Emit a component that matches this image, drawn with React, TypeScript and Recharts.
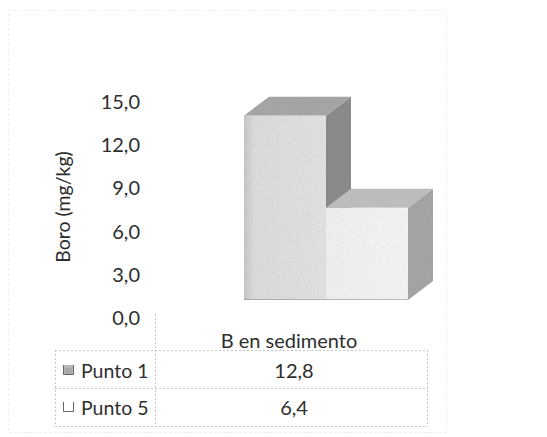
import React from "react";
import { Bar, BarChart, XAxis, YAxis } from "recharts";

const categories = ["B en sedimento"];
const seriesNames = ["Punto 1", "Punto 5"];
const punto1 = [12.8];
const punto5 = [6.4];
const yTicks = [0, 3, 6, 9, 12, 15];

const data = categories.map((c, i) => ({ cat: c, p1: punto1[i], p5: punto5[i] }));

const FONT = "Lato, 'Open Sans', sans-serif";
const TEXT = "#2e2e2e";
const DEPTH_X = 25;
const DEPTH_Y = 19;

const fmt = (v: number) => v.toFixed(1).replace(".", ",");

const faces = {
  p1: { front: "url(#front1)", side: "#909090", top: "#acacac" },
  p5: { front: "url(#front5)", side: "#aaaaaa", top: "#c4c4c4" },
};

function Box3D(props: any) {
  const { x, y, width, height, colors } = props;
  if (!height || height <= 0) return null;
  const x2 = x + width;
  const yb = y + height;
  return (
    <g filter="url(#grain)">
      <polygon
        points={`${x2},${y} ${x2 + DEPTH_X},${y - DEPTH_Y} ${x2 + DEPTH_X},${yb - DEPTH_Y} ${x2},${yb}`}
        fill={colors.side}
      />
      <polygon
        points={`${x},${y} ${x + DEPTH_X},${y - DEPTH_Y} ${x2 + DEPTH_X},${y - DEPTH_Y} ${x2},${y}`}
        fill={colors.top}
      />
      <rect x={x} y={y} width={width} height={height} fill={colors.front} />
      <line x1={x} y1={yb} x2={x2} y2={yb} stroke="#888" strokeWidth={1} />
    </g>
  );
}

function YTick(props: any) {
  const { x, y, payload } = props;
  return (
    <text
      x={x}
      y={y + 17}
      textAnchor="end"
      dominantBaseline="central"
      fontFamily={FONT}
      fontSize={20}
      fill={TEXT}
    >
      {fmt(payload.value)}
    </text>
  );
}

function DataTable() {
  const line = { stroke: "#c8c8c8", strokeDasharray: "2 2", strokeWidth: 1 };
  const rows = [
    { name: seriesNames[0], value: punto1[0], key: "#b8b8b8", y: 370 },
    { name: seriesNames[1], value: punto5[0], key: "#ffffff", y: 407 },
  ];
  return (
    <svg
      width={547}
      height={437}
      style={{ position: "absolute", left: 0, top: 0, pointerEvents: "none" }}
    >
      <rect x={8.5} y={10.5} width={438} height={422} fill="none" stroke="#e6e6e6" strokeDasharray="2 3" />
      <text
        x={62}
        y={207}
        transform="rotate(-90 62 207)"
        textAnchor="middle"
        dominantBaseline="central"
        fontFamily={FONT}
        fontSize={19.5}
        fill={TEXT}
      >
        Boro (mg/kg)
      </text>
      <line x1={155.5} y1={314} x2={155.5} y2={426} {...line} />
      <line x1={55.5} y1={350} x2={55.5} y2={426} {...line} />
      <line x1={427.5} y1={350} x2={427.5} y2={426} {...line} />
      {[350.5, 388.5, 426.5].map((yy) => (
        <line key={yy} x1={55} y1={yy} x2={428} y2={yy} {...line} />
      ))}
      <text x={289} y={340} textAnchor="middle" dominantBaseline="central" fontFamily={FONT} fontSize={20} fill={TEXT}>
        {categories[0]}
      </text>
      {rows.map((r, i) => (
        <g key={r.name}>
          <path
            d={`M63.5 ${r.y - 5} V${r.y + 4.5} H73.5 V${r.y - 5}`}
            fill={r.key}
            stroke="#666"
            strokeWidth={1}
          />
          {i === 0 && <rect x={65} y={r.y - 2} width={7} height={5.5} fill="#a8a8a8" />}
          <text x={81} y={r.y} dominantBaseline="central" fontFamily={FONT} fontSize={19.5} fill={TEXT}>
            {r.name}
          </text>
          <text x={294} y={r.y} textAnchor="middle" dominantBaseline="central" fontFamily={FONT} fontSize={20} fill={TEXT}>
            {fmt(r.value)}
          </text>
        </g>
      ))}
    </svg>
  );
}

export default function App() {
  return (
    <div style={{ position: "absolute", left: 0, top: 0, width: 547, height: 437, background: "#fff" }}>
      <BarChart
        width={547}
        height={437}
        data={data}
        margin={{ top: 84, right: 95, bottom: 137, left: 140 }}
        barGap={0}
        barSize={82}
      >
        <defs>
          <linearGradient id="front1" x1="0" y1="0" x2="1" y2="0">
            <stop offset="0%" stopColor="#cccccc" />
            <stop offset="12%" stopColor="#e2e2e2" />
            <stop offset="100%" stopColor="#e8e8e8" />
          </linearGradient>
          <linearGradient id="front5" x1="0" y1="0" x2="1" y2="0">
            <stop offset="0%" stopColor="#f6f6f6" />
            <stop offset="100%" stopColor="#fbfbfb" />
          </linearGradient>
          <filter id="grain" x="0" y="0" width="100%" height="100%">
            <feTurbulence type="fractalNoise" baseFrequency="0.9" numOctaves={2} seed={3} result="n" />
            <feColorMatrix in="n" type="matrix" values="0 0 0 0 0  0 0 0 0 0  0 0 0 0 0  0 0 0 0.18 0" result="g" />
            <feComposite in="g" in2="SourceGraphic" operator="in" result="gi" />
            <feMerge>
              <feMergeNode in="SourceGraphic" />
              <feMergeNode in="gi" />
            </feMerge>
          </filter>
        </defs>
        <XAxis dataKey="cat" hide />
        <YAxis
          domain={[0, 15]}
          ticks={yTicks}
          width={60}
          axisLine={false}
          tickLine={false}
          tickSize={0}
          tickMargin={60}
          tick={<YTick />}
          interval={0}
        />
        <Bar dataKey="p1" name={seriesNames[0]} isAnimationActive={false} shape={<Box3D colors={faces.p1} />} />
        <Bar dataKey="p5" name={seriesNames[1]} isAnimationActive={false} shape={<Box3D colors={faces.p5} />} />
      </BarChart>
      <DataTable />
    </div>
  );
}
